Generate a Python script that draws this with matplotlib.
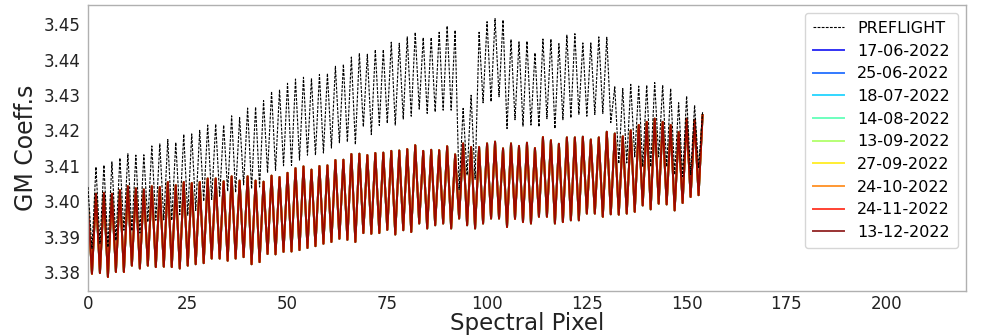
import numpy as np
import matplotlib
matplotlib.use("Agg")
import matplotlib.pyplot as plt

# PREFLIGHT values: even pixels (peaks) and odd pixels (troughs)
pre_even = [3.4040, 3.4097, 3.4102, 3.4111, 3.4122, 3.4134, 3.4130, 3.4131, 3.4156, 3.4162,
            3.4174, 3.4166, 3.4189, 3.4190, 3.4200, 3.4215, 3.4218, 3.4215, 3.4241, 3.4236,
            3.4263, 3.4266, 3.4284, 3.4310, 3.4315, 3.4333, 3.4345, 3.4350, 3.4347, 3.4358,
            3.4361, 3.4381, 3.4387, 3.4407, 3.4418, 3.4415, 3.4428, 3.4428, 3.4449, 3.4446,
            3.4464, 3.4477, 3.4462, 3.4462, 3.4477, 3.4495, 3.4483, 3.4262, 3.4299, 3.4477,
            3.4507, 3.4516, 3.4512, 3.4457, 3.4450, 3.4452, 3.4419, 3.4458, 3.4458, 3.4445,
            3.4469, 3.4473, 3.4447, 3.4447, 3.4464, 3.4463, 3.4323, 3.4318, 3.4330, 3.4325,
            3.4328, 3.4335, 3.4328, 3.4318, 3.4278, 3.4297, 3.4271, 3.4252]
pre_odd = [3.3866, 3.3880, 3.3870, 3.3889, 3.3918, 3.3916, 3.3910, 3.3941, 3.3946, 3.3947,
           3.3946, 3.3962, 3.3960, 3.3974, 3.4000, 3.4005, 3.4014, 3.4028, 3.4025, 3.4046,
           3.4035, 3.4040, 3.4080, 3.4087, 3.4100, 3.4101, 3.4116, 3.4130, 3.4130, 3.4136,
           3.4150, 3.4165, 3.4167, 3.4160, 3.4210, 3.4188, 3.4214, 3.4220, 3.4215, 3.4232,
           3.4240, 3.4260, 3.4248, 3.4252, 3.4257, 3.4257, 3.4033, 3.4073, 3.4062, 3.4278,
           3.4281, 3.4295, 3.4205, 3.4230, 3.4212, 3.4215, 3.4210, 3.4233, 3.4205, 3.4230,
           3.4235, 3.4245, 3.4240, 3.4245, 3.4248, 3.4222, 3.4106, 3.4108, 3.4125, 3.4097,
           3.4097, 3.4125, 3.4097, 3.4075, 3.4070, 3.4075, 3.4095]

# In-flight values (all dates overlap): even pixels (peaks) and odd pixels (troughs)
fl_even = [3.3990, 3.4021, 3.4023, 3.4021, 3.4031, 3.4042, 3.4036, 3.4033, 3.4042, 3.4040,
           3.4054, 3.4045, 3.4054, 3.4051, 3.4054, 3.4064, 3.4064, 3.4056, 3.4070, 3.4058,
           3.4070, 3.4058, 3.4055, 3.4072, 3.4068, 3.4080, 3.4093, 3.4098, 3.4089, 3.4099,
           3.4101, 3.4116, 3.4117, 3.4133, 3.4134, 3.4130, 3.4136, 3.4137, 3.4142, 3.4143,
           3.4147, 3.4158, 3.4142, 3.4145, 3.4144, 3.4155, 3.4132, 3.4163, 3.4153, 3.4153,
           3.4163, 3.4168, 3.4149, 3.4163, 3.4156, 3.4165, 3.4150, 3.4181, 3.4172, 3.4162,
           3.4180, 3.4180, 3.4182, 3.4174, 3.4180, 3.4196, 3.4191, 3.4183, 3.4200, 3.4215,
           3.4224, 3.4233, 3.4224, 3.4215, 3.4195, 3.4233, 3.4230, 3.4243]
fl_odd = [3.3795, 3.3797, 3.3786, 3.3800, 3.3800, 3.3818, 3.3810, 3.3818, 3.3814, 3.3815,
          3.3814, 3.3810, 3.3818, 3.3822, 3.3825, 3.3838, 3.3838, 3.3832, 3.3838, 3.3842,
          3.3822, 3.3828, 3.3851, 3.3850, 3.3857, 3.3858, 3.3862, 3.3868, 3.3873, 3.3880,
          3.3885, 3.3894, 3.3891, 3.3885, 3.3910, 3.3908, 3.3910, 3.3919, 3.3906, 3.3918,
          3.3913, 3.3937, 3.3923, 3.3932, 3.3937, 3.3923, 3.3951, 3.3932, 3.3923, 3.3937,
          3.3951, 3.3951, 3.3927, 3.3950, 3.3941, 3.3937, 3.3956, 3.3956, 3.3937, 3.3941,
          3.3946, 3.3946, 3.3965, 3.3965, 3.3956, 3.3963, 3.3962, 3.3965, 3.3970, 3.3988,
          3.3977, 3.3993, 3.3991, 3.3974, 3.3995, 3.4012, 3.4017]

dates = ["17-06-2022", "25-06-2022", "18-07-2022", "14-08-2022", "13-09-2022",
         "27-09-2022", "24-10-2022", "24-11-2022", "13-12-2022"]


def interleave(even, odd):
    out = np.empty(len(even) + len(odd))
    out[0::2] = even
    out[1::2] = odd
    return out


preflight = interleave(pre_even, pre_odd)
inflight = interleave(fl_even, fl_odd)
pixels = np.arange(len(preflight))

fig = plt.figure(figsize=(9.85, 3.35), dpi=100)
ax = fig.add_axes([0.0893, 0.131, 0.8914, 0.854])

ax.plot(pixels, preflight, color="black", linestyle="--", linewidth=0.8,
        label="PREFLIGHT", zorder=5, dashes=(2.5, 1.2))
cmap = plt.cm.jet
cvals = np.linspace(0.1, 1.0, len(dates))
for d, cv in zip(dates, cvals):
    ax.plot(pixels, inflight, color=cmap(cv), alpha=0.8, linewidth=1.4, label=d)

ax.set_xlim(0, 220)
ax.set_ylim(3.3746, 3.4554)
ax.set_xticks([0, 25, 50, 75, 100, 125, 150, 175, 200])
ax.set_yticks([3.38, 3.39, 3.40, 3.41, 3.42, 3.43, 3.44, 3.45])
ax.set_yticklabels(["3.38", "3.39", "3.40", "3.41", "3.42", "3.43", "3.44", "3.45"])
ax.tick_params(axis="both", labelsize=12, length=0, colors="#222222")
ax.tick_params(axis="x", pad=3)
ax.tick_params(axis="y", pad=5)
for s in ax.spines.values():
    s.set_color("#b0b0b0")
    s.set_linewidth(1.0)

ax.set_xlabel("Spectral Pixel", fontsize=16.5, labelpad=-1, color="#222222")
ax.set_ylabel("GM Coeff.s", fontsize=17, labelpad=4, color="#222222")

ax.legend(loc="upper right", fontsize=11.5, frameon=True, labelspacing=0.48,
          borderaxespad=0.5, borderpad=0.5, handlelength=2.0)

fig.savefig("out.png", dpi=100)
